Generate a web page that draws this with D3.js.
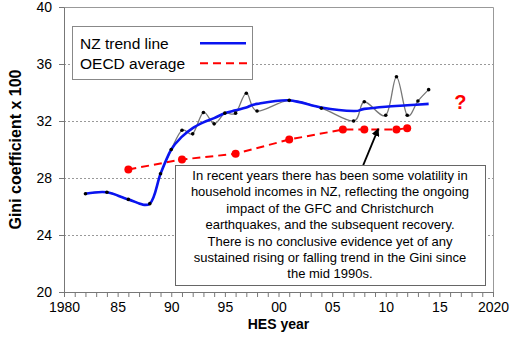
<!DOCTYPE html>
<html lang="en">
<head>
  <meta charset="UTF-8">
  <title>NZ Gini</title>
  <style>
    body { margin: 0; background: #fff; }
    svg text { font-family: "Liberation Sans", Arial, sans-serif; }
  </style>
</head>
<body>
  <svg id="chart" width="523" height="339"></svg>
<script src="https://cdn.jsdelivr.net/npm/d3@7"></script>
<script>
  // NZ Gini (HES survey years)
  const nzYears = [1982, 1984, 1986, 1988, 1989, 1990, 1991, 1992, 1993, 1994, 1995, 1996, 1997, 1998, 2001, 2004, 2007, 2008, 2010, 2011, 2012, 2013, 2014]
  const nzGini  = [26.9, 27.0, 26.5, 26.2, 28.3, 30.0, 31.35, 31.1, 32.6, 31.8, 32.55, 32.55, 33.95, 32.7, 33.45, 32.9, 32.0, 33.35, 32.4, 35.1, 32.4, 33.4, 34.2]

  const trendYears = [1982, 1984, 1986, 1988, 1989, 1990, 1991, 1992, 1993, 1994, 1995, 1996, 1997, 1998, 2001, 2004, 2007, 2008, 2010, 2012, 2014]
  const trendGini  = [26.9, 27.0, 26.5, 26.2, 28.3, 30.0, 30.9, 31.5, 31.9, 32.2, 32.55, 32.75, 32.95, 33.2, 33.45, 32.95, 32.7, 32.85, 33.0, 33.1, 33.2]

  const oecdYears = [1986, 1991, 1996, 2001, 2006, 2008, 2011, 2012]
  const oecdGini  = [28.6, 29.3, 29.7, 30.7, 31.4, 31.4, 31.4, 31.5]

  const yTicks = [20, 24, 28, 32, 36, 40]
  const xTickLabels = {1980: "1980", 1985: "85", 1990: "90", 1995: "95", 2000: "00", 2005: "05", 2010: "10", 2015: "15", 2020: "2020"}

  const noteLines = [
    "In recent years there has been some volatility in",
    "household incomes in NZ, reflecting the ongoing",
    "impact of the GFC and Christchurch",
    "earthquakes, and the subsequent recovery.",
    "There is no conclusive evidence yet of any",
    "sustained rising or falling trend in the Gini since",
    "the mid 1990s."
  ]

  let svg = d3.select("#chart")
  let plotL = 64, plotR = 493, plotT = 7, plotB = 292

  let x = d3.scaleLinear().domain([1980, 2020]).range([plotL, plotR])
  let y = d3.scaleLinear().domain([20, 40]).range([plotB, plotT])

  // grid
  svg.append("g")
     .selectAll("line")
     .data(yTicks.filter(d => d > 20 && d < 40))
     .enter()
     .append("line")
     .attr("x1", plotL).attr("x2", plotR)
     .attr("y1", d => y(d) + 0.5).attr("y2", d => y(d) + 0.5)
     .attr("stroke", "#999")
     .attr("stroke-width", 1)
     .attr("stroke-dasharray", "2,2")

  // plot border top/right
  svg.append("path")
     .attr("d", `M${plotL},${plotT + 0.5}H${plotR + 0.5}V${plotB}`)
     .attr("fill", "none")
     .attr("stroke", "#999")

  // axes
  svg.append("g")
     .attr("transform", `translate(0,${plotB})`)
     .call(d3.axisBottom(x)
       .tickValues(d3.range(1980, 2021))
       .tickSize(5)
       .tickSizeOuter(0)
       .tickPadding(5)
       .tickFormat(d => xTickLabels[d] || ""))
  svg.append("g")
     .attr("transform", `translate(${plotL},0)`)
     .call(d3.axisLeft(y)
       .tickValues(yTicks)
       .tickSize(5)
       .tickSizeOuter(0)
       .tickPadding(7))
  svg.selectAll(".domain, .tick line").attr("stroke", "#777")
  svg.selectAll(".tick text")
     .attr("font-size", "14px")
     .attr("font-family", "Liberation Sans, Arial, sans-serif")
     .attr("fill", "#000")

  // axis titles
  svg.append("text")
     .attr("transform", `translate(21,${(plotT + plotB) / 2}) rotate(-90)`)
     .attr("text-anchor", "middle")
     .attr("font-size", "16px")
     .attr("font-weight", "bold")
     .text("Gini coefficient x 100")
  svg.append("text")
     .attr("x", (plotL + plotR) / 2)
     .attr("y", 329)
     .attr("text-anchor", "middle")
     .attr("font-size", "14px")
     .attr("font-weight", "bold")
     .text("HES year")

  // lines
  let nzData = nzYears.map((d, i) => ({year: d, v: nzGini[i]}))
  let trendData = trendYears.map((d, i) => ({year: d, v: trendGini[i]}))
  let oecdData = oecdYears.map((d, i) => ({year: d, v: oecdGini[i]}))

  let smooth = d3.line().x(d => x(d.year)).y(d => y(d.v)).curve(d3.curveCatmullRom.alpha(0))
  let straight = d3.line().x(d => x(d.year)).y(d => y(d.v))

  svg.append("path")
     .attr("d", smooth(nzData))
     .attr("fill", "none")
     .attr("stroke", "#777")
     .attr("stroke-width", 1.3)

  svg.append("path")
     .attr("d", straight(oecdData))
     .attr("fill", "none")
     .attr("stroke", "#ff0000")
     .attr("stroke-width", 2)
     .attr("stroke-dasharray", "8,5")

  svg.append("g")
     .selectAll("circle")
     .data(oecdData)
     .enter()
     .append("circle")
     .attr("cx", d => x(d.year))
     .attr("cy", d => y(d.v))
     .attr("r", 4)
     .attr("fill", "#ff0000")

  svg.append("path")
     .attr("d", smooth(trendData))
     .attr("fill", "none")
     .attr("stroke", "#0a14f0")
     .attr("stroke-width", 2.6)

  svg.append("g")
     .selectAll("circle")
     .data(nzData)
     .enter()
     .append("circle")
     .attr("cx", d => x(d.year))
     .attr("cy", d => y(d.v))
     .attr("r", 1.8)
     .attr("fill", "#000")

  // question mark
  svg.append("text")
     .attr("x", x(2016.95))
     .attr("y", y(32.85))
     .attr("text-anchor", "middle")
     .attr("font-size", "20px")
     .attr("font-weight", "bold")
     .attr("fill", "#ff0000")
     .text("?")

  // legend
  let legend = svg.append("g")
  legend.append("rect")
        .attr("x", 72.5).attr("y", 26.5)
        .attr("width", 180).attr("height", 53)
        .attr("fill", "#fff")
        .attr("stroke", "#888")
  legend.append("text").attr("x", 80).attr("y", 48.5).attr("font-size", "15.5px").text("NZ trend line")
  legend.append("text").attr("x", 80).attr("y", 68.5).attr("font-size", "15.5px").text("OECD average")
  legend.append("line")
        .attr("x1", 200).attr("x2", 246).attr("y1", 43.3).attr("y2", 43.3)
        .attr("stroke", "#0a14f0").attr("stroke-width", 2.6)
  legend.append("line")
        .attr("x1", 200).attr("x2", 250).attr("y1", 63.3).attr("y2", 63.3)
        .attr("stroke", "#ff0000").attr("stroke-width", 2).attr("stroke-dasharray", "8,5")

  // arrow
  svg.append("defs").append("marker")
     .attr("id", "arrowhead")
     .attr("viewBox", "0 0 10 10")
     .attr("refX", 9).attr("refY", 5)
     .attr("markerWidth", 8).attr("markerHeight", 8)
     .attr("markerUnits", "userSpaceOnUse")
     .attr("orient", "auto")
     .append("path")
     .attr("d", "M0,0L10,5L0,10Z")
     .attr("fill", "#000")
  svg.append("line")
     .attr("x1", x(2007.9)).attr("y1", y(28.9))
     .attr("x2", x(2009.3)).attr("y2", y(31.45))
     .attr("stroke", "#000")
     .attr("stroke-width", 1.8)
     .attr("marker-end", "url(#arrowhead)")

  // note box
  let note = svg.append("g")
  note.append("rect")
      .attr("x", 175.5).attr("y", 165.5)
      .attr("width", 310).attr("height", 120)
      .attr("fill", "#fff")
      .attr("stroke", "#666")
  note.selectAll("text")
      .data(noteLines)
      .enter()
      .append("text")
      .attr("x", 330)
      .attr("y", (d, i) => 180 + i * 16.4)
      .attr("text-anchor", "middle")
      .attr("font-size", "13px")
      .text(d => d)
</script>
</body>
</html>
